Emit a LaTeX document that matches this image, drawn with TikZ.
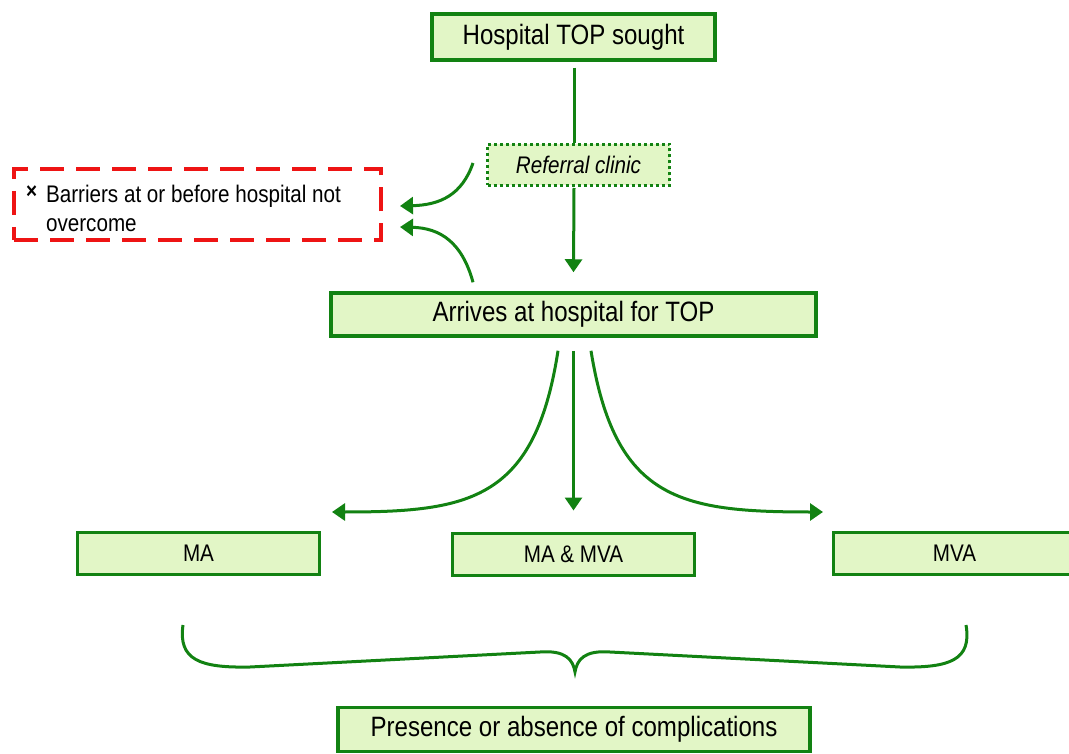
\documentclass[tikz,border=0pt]{standalone}
\usepackage{fontspec}
\setmainfont[FakeStretch=0.86]{Liberation Sans}
\usepackage{xcolor}
\usetikzlibrary{arrows.meta,positioning,calc}

\definecolor{boxfill}{RGB}{226,246,198}
\definecolor{boxline}{RGB}{18,130,18}
\definecolor{failred}{RGB}{238,20,20}

\begin{document}
\begin{tikzpicture}[
    x=1pt, y=-1pt,
    stage/.style={rectangle, draw=boxline, line width=3.5pt, fill=boxfill, inner sep=0pt, font=\fontsize{28}{32}\selectfont},
    clinic/.style={rectangle, draw=boxline, line width=3pt, dash pattern=on 3pt off 3pt, fill=boxfill, inner sep=0pt, font=\fontsize{24}{28}\selectfont\itshape},
    method/.style={rectangle, draw=boxline, line width=3pt, fill=boxfill, inner sep=0pt, minimum width=242pt, minimum height=42pt, font=\fontsize{24}{28}\selectfont},
    fail/.style={rectangle, draw=failred, line width=4pt, dash pattern=on 24pt off 12pt, minimum width=367pt, minimum height=71pt, inner sep=0pt, font=\fontsize{24}{29}\selectfont},
    flow/.style={draw=boxline, line width=3pt, -{Triangle[length=13pt,width=17pt]}}
]
    \useasboundingbox (0,0) rectangle (1069,754);

    % Top
    \node[stage, minimum width=283pt, minimum height=46pt] (sought) at (573.5,37) {Hospital TOP sought};
    \node[clinic, minimum width=182pt, minimum height=41pt] (referral) at (578.5,165) {Referral clinic};

    % Hospital
    \node[stage, minimum width=485pt, minimum height=43pt] (arrives) at (573.5,314.5) {Arrives at hospital for TOP};

    % Barriers
    \node[fail] (barrier) at (197.5,204.5) {\hspace*{-28pt}\begin{tabular}{@{}p{20pt}@{}l@{}}
      \rule{0pt}{34pt}\raisebox{4pt}{\fontsize{22}{22}\selectfont\bfseries ×} & Barriers at or before hospital not\\
      & overcome
    \end{tabular}};
    \coordinate (bar in1) at (400,206);
    \coordinate (bar in2) at (400,227);

    % Methods
    \node[method] (ma) at (198.5,553.5) {MA};
    \node[method] (mamva) at (573.5,554) {MA \& MVA};
    \node[method] (mva) at (954.5,553.5) {MVA};
    \coordinate (ma in) at (332,512);
    \coordinate (mva in) at (823,512);

    % Outcome
    \node[stage, minimum width=472pt, minimum height=44pt] (outcome) at (574,729.5) {Presence or absence of complications};

    % Edges
    \draw[boxline, line width=3pt] ([xshift=0.5pt,yshift=-6pt]sought.south) -- ([xshift=-4.5pt]referral.north);
    \draw[flow] ([xshift=-4.5pt,yshift=-1pt]referral.south) -- ([yshift=19pt]arrives.north);
    \draw[flow] ([xshift=-13pt,yshift=2pt]referral.west) .. controls (462,195) and (440,205) .. (bar in1);
    \draw[flow] ([xshift=-100.5pt,yshift=9pt]arrives.north) .. controls (462,242) and (440,228) .. (bar in2);
    \draw[flow] ([xshift=-15.5pt,yshift=-13pt]arrives.south) .. controls (535,500) and (470,512) .. (ma in);
    \draw[flow] ([yshift=-13pt]arrives.south) -- ([yshift=21pt]mamva.north);
    \draw[flow] ([xshift=17.5pt,yshift=-13pt]arrives.south) .. controls (615,500) and (680,512) .. (mva in);

    % Brace
    \draw[boxline, line width=3pt] (183,625) .. controls (178,660) and (200,668) .. (250,667)
      -- (540,652) .. controls (566,650) and (573,660) .. (575,672)
      .. controls (577,660) and (584,650) .. (610,652)
      -- (900,667) .. controls (950,668) and (972,660) .. (966,625);
\end{tikzpicture}
\end{document}
